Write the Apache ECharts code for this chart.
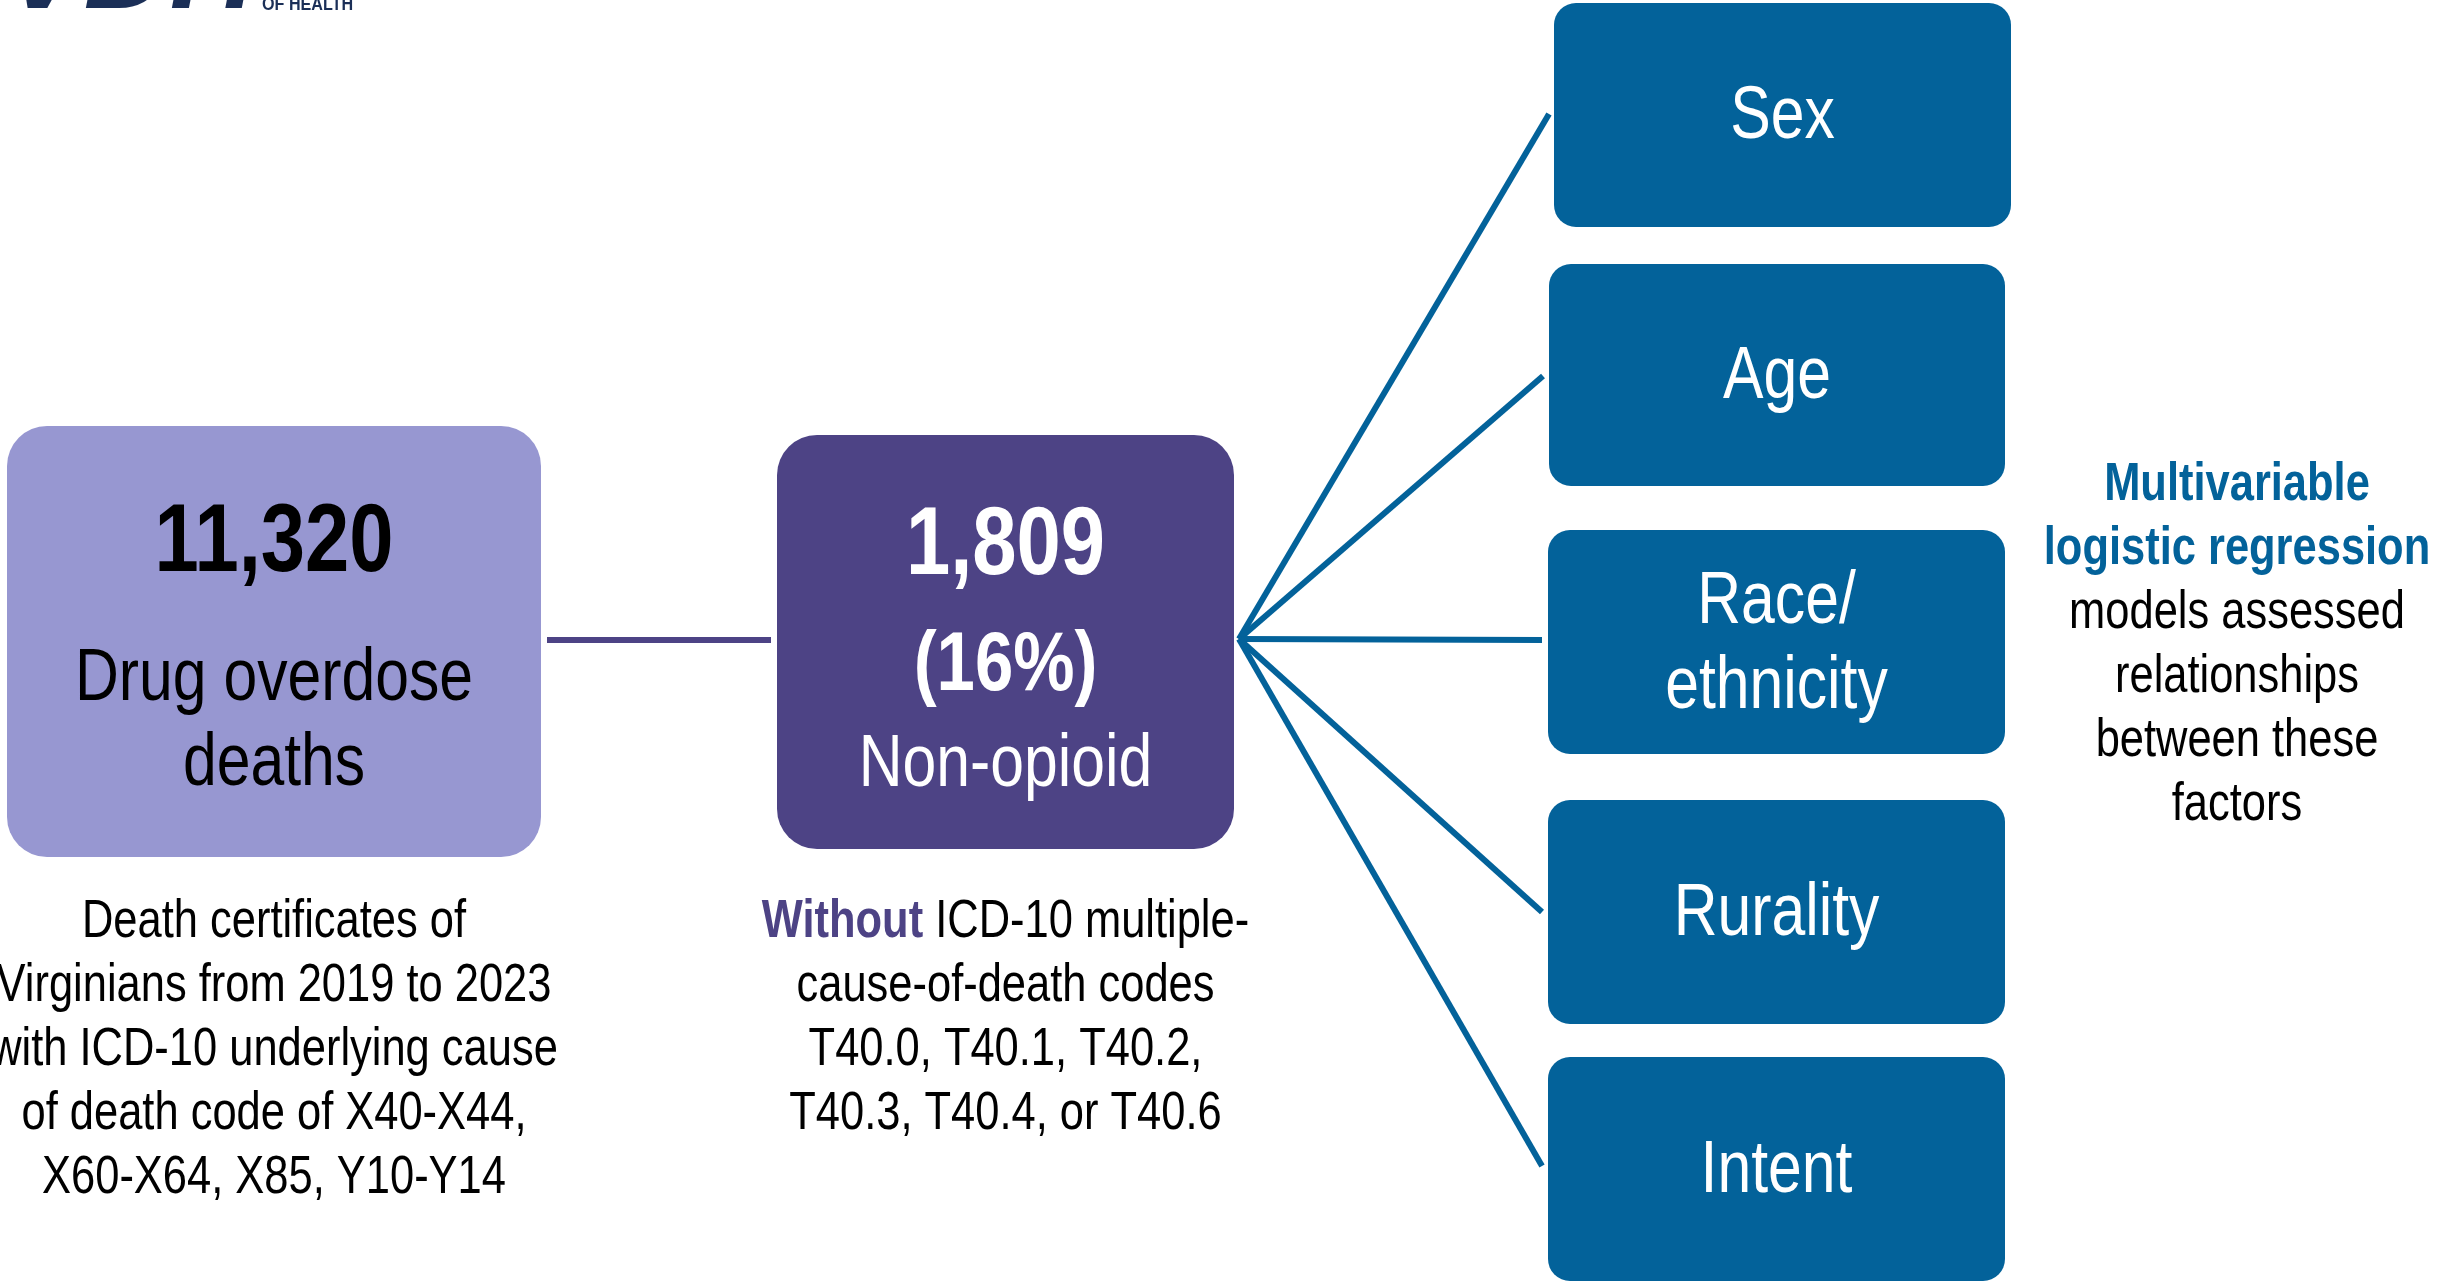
<!DOCTYPE html>
<html>
<head>
<meta charset="utf-8">
<script src="https://cdn.jsdelivr.net/npm/echarts@6/dist/echarts.min.js"></script>
<style>
html,body{margin:0;padding:0;background:#ffffff;}
#chart{width:2437px;height:1282px;}
</style>
</head>
<body>
<div id="chart"></div>
<script>
// ---------------- data ----------------
const totalDeaths = 11320;
const totalLabel = 'Drug overdose\ndeaths';
const nonOpioidDeaths = 1809;
const nonOpioidPct = 16;
const nonOpioidLabel = 'Non-opioid';
const factors = ['Sex', 'Age', 'Race/\nethnicity', 'Rurality', 'Intent'];
const sourceNoteLines = [
  'Death certificates of',
  'Virginians from 2019 to 2023',
  'with ICD-10 underlying cause',
  'of death code of X40-X44,',
  'X60-X64, X85, Y10-Y14'
];
const exclusionEmphasis = 'Without';
const exclusionLines = [
  ' ICD-10 multiple-',
  'cause-of-death codes',
  'T40.0, T40.1, T40.2,',
  'T40.3, T40.4, or T40.6'
];
const methodTitleLines = ['Multivariable', 'logistic regression'];
const methodBodyLines = ['models assessed', 'relationships', 'between these', 'factors'];
const logoMark = 'VDH';
const logoSub = 'OF HEALTH';

// ---------------- layout / style ----------------
function hasFont(name) {
  const c = document.createElement('canvas').getContext('2d');
  const s = 'abcdefghijklmnopqrstuvwxyzABCDEFGHIJKLMNOPQRSTUVWXYZ0123456789';
  c.font = '40px monospace';
  const a = c.measureText(s).width;
  c.font = '40px "' + name + '", monospace';
  const b = c.measureText(s).width;
  return Math.abs(a - b) > 0.5;
}
const NARROW = hasFont('Liberation Sans Narrow');
const FONT = NARROW ? 'Liberation Sans Narrow' : 'Liberation Sans';
const SX = NARROW ? 1 : 0.82;

const C = {
  lav: '#9797d1',
  purple: '#4d4385',
  blue: '#03629a',
  navy: '#1b2f57',
  black: '#000000',
  white: '#ffffff'
};

const layout = {
  box1: { x: 7, y: 426, w: 534, h: 431, r: 40 },
  box2: { x: 777, y: 435, w: 457, h: 414, r: 40 },
  link1: { x1: 547, x2: 771, y: 640 },
  hub: { x: 1239, y: 639 },
  factorBoxes: [
    { x: 1554, y: 3, w: 457, h: 224 },
    { x: 1549, y: 264, w: 456, h: 222 },
    { x: 1548, y: 530, w: 457, h: 224 },
    { x: 1548, y: 800, w: 457, h: 224 },
    { x: 1548, y: 1057, w: 457, h: 224 }
  ],
  factorEnds: [[1549, 114], [1543, 376], [1542, 640], [1542, 912], [1542, 1166]],
  factorR: 22,
  lineWidth: 6
};

function txt(cx, cy, text, size, opts) {
  opts = opts || {};
  const style = {
    x: 0, y: 0,
    text: text,
    fontFamily: FONT,
    fontSize: size,
    fontWeight: opts.bold ? 'bold' : 'normal',
    fontStyle: opts.italic ? 'italic' : 'normal',
    fill: opts.color || C.black,
    align: 'center', textAlign: 'center',
    verticalAlign: 'middle', textVerticalAlign: 'middle',
    lineHeight: opts.lineHeight || Math.round(size * 1.15)
  };
  if (opts.rich) style.rich = opts.rich;
  return {
    type: 'text', x: cx, y: cy + 0.05 * size, scaleX: opts.sx || SX, z: 10,
    style: style, silent: true
  };
}

const elements = [];

// connector lines
elements.push({
  type: 'line', z: 1,
  shape: { x1: layout.link1.x1, y1: layout.link1.y, x2: layout.link1.x2, y2: layout.link1.y },
  style: { stroke: C.purple, lineWidth: layout.lineWidth }
});
layout.factorEnds.forEach(function (p) {
  elements.push({
    type: 'line', z: 1,
    shape: { x1: layout.hub.x, y1: layout.hub.y, x2: p[0], y2: p[1] },
    style: { stroke: C.blue, lineWidth: layout.lineWidth }
  });
});

// box 1
const b1 = layout.box1;
elements.push({ type: 'rect', z: 2, shape: { x: b1.x, y: b1.y, width: b1.w, height: b1.h, r: b1.r }, style: { fill: C.lav } });
const b1cx = b1.x + b1.w / 2;
elements.push(txt(b1cx, 539, totalDeaths.toLocaleString('en-US'), 97, { bold: true }));
elements.push(txt(b1cx, 718, totalLabel, 74, { lineHeight: 85 }));
elements.push(txt(b1cx, 1048, sourceNoteLines.join('\n'), 53, { lineHeight: 64 }));

// box 2
const b2 = layout.box2;
elements.push({ type: 'rect', z: 2, shape: { x: b2.x, y: b2.y, width: b2.w, height: b2.h, r: b2.r }, style: { fill: C.purple } });
const b2cx = b2.x + b2.w / 2;
elements.push(txt(b2cx, 542, nonOpioidDeaths.toLocaleString('en-US'), 97, { bold: true, color: C.white }));
elements.push(txt(b2cx, 663, '(' + nonOpioidPct + '%)', 84, { bold: true, color: C.white }));
elements.push(txt(b2cx, 762, nonOpioidLabel, 74, { color: C.white }));

const exRich = {
  em: { fontFamily: FONT, fontSize: 53, fontWeight: 'bold', fill: C.purple, lineHeight: 64 },
  n: { fontFamily: FONT, fontSize: 53, fill: C.black, lineHeight: 64 }
};
const exText = '{em|' + exclusionEmphasis + '}{n|' + exclusionLines[0] + '}\n' +
  exclusionLines.slice(1).map(function (l) { return '{n|' + l + '}'; }).join('\n');
elements.push(txt(b2cx, 1016, exText, 53, { lineHeight: 64, rich: exRich }));

// factor boxes
layout.factorBoxes.forEach(function (b, i) {
  elements.push({ type: 'rect', z: 2, shape: { x: b.x, y: b.y, width: b.w, height: b.h, r: layout.factorR }, style: { fill: C.blue } });
  elements.push(txt(b.x + b.w / 2, b.y + b.h / 2 - 1, factors[i], 74, { color: C.white, lineHeight: 85 }));
});

// method note
const mRich = {
  t: { fontFamily: FONT, fontSize: 53, fontWeight: 'bold', fill: C.blue, lineHeight: 64 },
  n: { fontFamily: FONT, fontSize: 53, fill: C.black, lineHeight: 64 }
};
const mText = methodTitleLines.map(function (l) { return '{t|' + l + '}'; })
  .concat(methodBodyLines.map(function (l) { return '{n|' + l + '}'; })).join('\n');
elements.push(txt(2237, 643, mText, 53, { lineHeight: 64, rich: mRich }));

// logo (cut off at the top edge)
elements.push({
  type: 'text', x: 130, y: -25, z: 10, silent: true,
  style: { x: 0, y: 0, text: logoMark, fontFamily: 'Liberation Sans', fontSize: 119, fontWeight: 'bold', fontStyle: 'italic',
    fill: C.navy, align: 'center', textAlign: 'center', verticalAlign: 'middle', textVerticalAlign: 'middle' }
});
elements.push({
  type: 'text', x: 262, y: 5, z: 10, silent: true, scaleX: 0.85,
  style: { x: 0, y: 0, text: logoSub, fontFamily: 'Liberation Sans', fontSize: 19, fontWeight: 'bold',
    fill: C.navy, align: 'left', textAlign: 'left', verticalAlign: 'middle', textVerticalAlign: 'middle' }
});

const chart = echarts.init(document.getElementById('chart'), null, { renderer: 'canvas' });
chart.setOption({
  backgroundColor: '#ffffff',
  animation: false,
  graphic: { elements: elements }
});
</script>
</body>
</html>
